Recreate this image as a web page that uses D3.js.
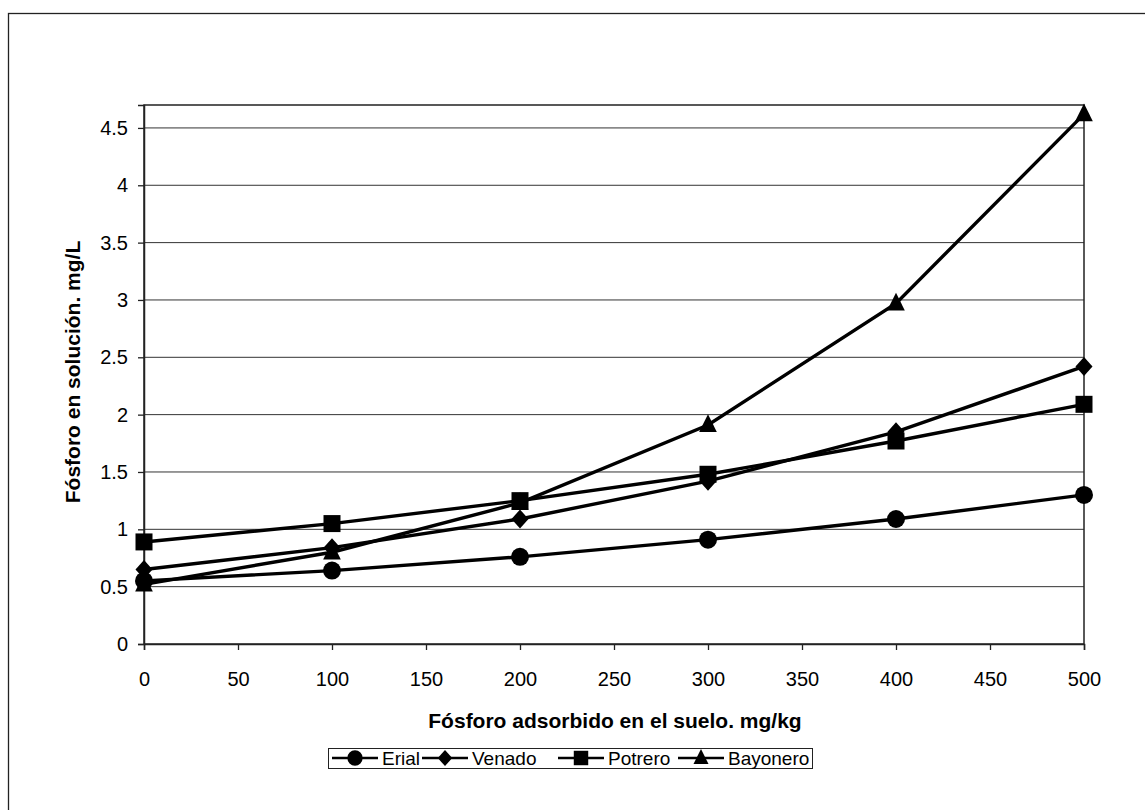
<!DOCTYPE html>
<html>
<head>
<meta charset="utf-8">
<script src="https://cdn.jsdelivr.net/npm/d3@7"></script>
<style>
  body { margin: 0; background: #fff; }
  svg { font-family: "Liberation Sans", Arial, sans-serif; }
</style>
</head>
<body>
<svg id="chart" width="1145" height="810"></svg>
<script>
// data
const dosis = [0, 100, 200, 300, 400, 500];
const erial = [0.55, 0.64, 0.76, 0.91, 1.09, 1.30];
const venado = [0.65, 0.84, 1.09, 1.42, 1.85, 2.42];
const potrero = [0.89, 1.05, 1.25, 1.48, 1.77, 2.09];
const bayonero = [0.52, 0.80, 1.23, 1.91, 2.97, 4.62];

const xTicks = d3.range(0, 501, 50);
const yTicks = d3.range(0, 4.51, 0.5);

// marker shapes like the old spreadsheet ones (size = scale factor)
const triangle = {
	draw: function (ctx, s) {
		const w = s * 0.52, h = s * 1.05;
		ctx.moveTo(0, -h * 0.6);
		ctx.lineTo(w, h * 0.4);
		ctx.lineTo(-w, h * 0.4);
		ctx.closePath();
	}
};
const diamond = {
	draw: function (ctx, s) {
		const w = s * 0.5, h = s * 0.56;
		ctx.moveTo(0, -h);
		ctx.lineTo(w, 0);
		ctx.lineTo(0, h);
		ctx.lineTo(-w, 0);
		ctx.closePath();
	}
};
const square = {
	draw: function (ctx, s) {
		const r = s * 0.5;
		ctx.rect(-r, -r, s, s);
	}
};
const circle = {
	draw: function (ctx, s) {
		const r = s * 0.5;
		ctx.moveTo(r, 0);
		ctx.arc(0, 0, r, 0, 2 * Math.PI);
	}
};

const series = [
	{ name: "Erial", values: erial, symbol: circle, size: 18 },
	{ name: "Venado", values: venado, symbol: diamond, size: 17 },
	{ name: "Potrero", values: potrero, symbol: square, size: 17 },
	{ name: "Bayonero", values: bayonero, symbol: triangle, size: 17 }
];

const svg = d3.select("#chart");

// outer chart frame (only top and left visible in the scan)
svg.append("rect")
	.attr("x", 8.5).attr("y", 13.5)
	.attr("width", 1160).attr("height", 820)
	.attr("fill", "none").attr("stroke", "#222").attr("stroke-width", 1.3);

const margin = { left: 144, top: 105, right: 1084, bottom: 644 };

const x = d3.scaleLinear().domain([0, 500]).range([margin.left, margin.right]);
const y = d3.scaleLinear().domain([0, 4.7]).range([margin.bottom, margin.top]);

// gridlines
svg.append("g")
	.selectAll("line")
	.data(yTicks.filter(d => d > 0))
	.join("line")
	.attr("x1", margin.left).attr("x2", margin.right)
	.attr("y1", d => y(d)).attr("y2", d => y(d))
	.attr("stroke", "#333").attr("stroke-width", 1);

// plot box
svg.append("rect")
	.attr("x", margin.left).attr("y", margin.top)
	.attr("width", margin.right - margin.left)
	.attr("height", margin.bottom - margin.top)
	.attr("fill", "none").attr("stroke", "#222").attr("stroke-width", 1.5);

const xAxis = svg.append("g")
	.attr("transform", "translate(0," + margin.bottom + ")")
	.call(d3.axisBottom(x).tickValues(xTicks).tickSize(6).tickPadding(22).tickFormat(d3.format("d")));

const yAxis = svg.append("g")
	.attr("transform", "translate(" + margin.left + ",0)")
	.call(d3.axisLeft(y).tickValues(yTicks).tickSize(6).tickPadding(10).tickFormat(d => String(d)));

[xAxis, yAxis].forEach(function (ax) {
	ax.attr("font-size", 20).attr("font-family", "Liberation Sans, Arial, sans-serif");
	ax.select(".domain").attr("stroke", "#222").attr("stroke-width", 1.5);
	ax.selectAll(".tick line").attr("stroke", "#222").attr("stroke-width", 1.3);
	ax.selectAll("text").attr("fill", "#000");
});

// axis titles
svg.append("text")
	.attr("x", (margin.left + margin.right) / 2 + 1)
	.attr("y", 728)
	.attr("text-anchor", "middle")
	.attr("font-size", 21).attr("font-weight", "bold")
	.text("Fósforo adsorbido en el suelo. mg/kg");

svg.append("text")
	.attr("transform", "translate(80," + 372 + ") rotate(-90)")
	.attr("text-anchor", "middle")
	.attr("font-size", 21).attr("font-weight", "bold")
	.text("Fósforo en solución. mg/L");

// series
const line = d3.line()
	.x((d, i) => x(dosis[i]))
	.y(d => y(d));

const seriesG = svg.append("g");

series.forEach(function (s) {
	seriesG.append("path")
		.attr("d", line(s.values))
		.attr("fill", "none")
		.attr("stroke", "#000")
		.attr("stroke-width", 3.4);
});

series.forEach(function (s) {
	seriesG.append("g")
		.selectAll("path")
		.data(s.values)
		.join("path")
		.attr("transform", (d, i) => "translate(" + x(dosis[i]) + "," + y(d) + ")")
		.attr("d", d3.symbol().type(s.symbol).size(s.size))
		.attr("fill", "#000");
});

// legend
const legend = svg.append("g");
legend.append("rect")
	.attr("x", 328.5).attr("y", 748.5)
	.attr("width", 484).attr("height", 20)
	.attr("fill", "#fff").attr("stroke", "#222").attr("stroke-width", 1);

const legendX = [332, 422, 558, 678];
series.forEach(function (s, i) {
	const g = legend.append("g").attr("transform", "translate(" + legendX[i] + ",758)");
	g.append("line")
		.attr("x1", 0).attr("x2", 46)
		.attr("stroke", "#000").attr("stroke-width", 2.5);
	g.append("path")
		.attr("transform", "translate(23,0)")
		.attr("d", d3.symbol().type(s.symbol).size(s.size * 0.85))
		.attr("fill", "#000");
	g.append("text")
		.attr("x", 50).attr("y", 765 - 758)
		.attr("font-size", 19)
		.text(s.name);
});
</script>
</body>
</html>
